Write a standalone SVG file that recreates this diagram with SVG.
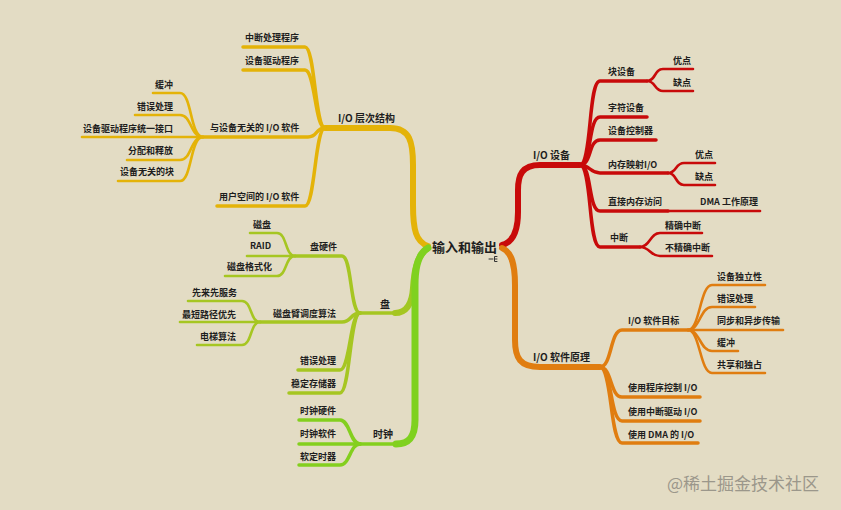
<svg xmlns="http://www.w3.org/2000/svg" width="841" height="510" viewBox="0 0 841 510">
<defs>
<linearGradient id="gDisk" gradientUnits="userSpaceOnUse" x1="0" y1="250" x2="0" y2="313">
<stop offset="0" stop-color="#80d11f"/><stop offset="1" stop-color="#a6c622"/>
</linearGradient>
</defs>
<style>
text{font-family:"Noto Sans CJK SC","Noto Sans",sans-serif;font-weight:bold;fill:#1e1e1e}
.t{font-size:9px}
.t1{font-size:10px}
.root{font-size:13px}
.wm{font-size:17px;font-weight:normal;fill:#9b978b}
path{fill:none;stroke-linecap:round;stroke-linejoin:round}
.l1{stroke-width:6}
.l2{stroke-width:3.5}
.l3{stroke-width:2.6}
.r{stroke:#c80a0a}
.o{stroke:#e07d10}
.y{stroke:#e4b308}
.g{stroke:#a6c622}
.c{stroke:#84cf1e}
.gt{stroke:#7fd11f}
.gd{stroke:url(#gDisk)}
</style>
<rect width="841" height="510" fill="#e3dcc4"/>
<g id="connectors">
<!-- level 1 -->
<path class="l1 y" d="M428 246 C416 242,413 230,413 205 V165 C413 142,410 128,390 128 H325"/>
<path class="l1 gd" d="M428 248 C416 256,414 272,413 288 C412 304,406 313,395 313"/>
<path class="l2 g" d="M395 313 H360"/>
<path class="l1 gt" style="stroke-width:7" d="M428 248 C419 253,415 265,415 285 V420 C415 436,410 444,396 444"/>
<path class="l2 c" d="M396 444 H360"/>
<path class="l1 r" d="M502 245 C514 242,518 230,518 212 V190 C518 175,522 165,540 165 H580"/>
<path class="l1 o" d="M502 248 C512 252,515 265,515 285 V340 C515 358,520 367,540 367 H600"/>
<!-- yellow level 2 -->
<path class="l2 y" d="M325 128 C315 128,315 47,305 47 H243"/>
<path class="l2 y" d="M325 128 C315 128,315 70,305 70 H243"/>
<path class="l2 y" d="M325 128 C315 128,318 137,308 137 H203"/>
<path class="l2 y" d="M325 128 C315 128,315 206,305 206 H217"/>
<!-- yellow level 3 -->
<path class="l3 y" d="M203 137 C190 137,192 93,180 93 H153"/>
<path class="l3 y" d="M203 137 C190 137,192 115,180 115 H135"/>
<path class="l3 y" d="M203 137 H82"/>
<path class="l3 y" d="M203 137 C190 137,192 160,180 160 H127"/>
<path class="l3 y" d="M203 137 C190 137,192 181,180 181 H118"/>
<!-- disk level 2 -->
<path class="l2 g" d="M360 313 C350 313,352 256,342 256 H295"/>
<path class="l2 g" d="M360 313 C350 313,352 322,342 322 H260"/>
<path class="l2 g" d="M360 313 C350 313,350 370,340 370 H298"/>
<path class="l2 g" d="M360 313 C350 313,350 393,340 393 H289"/>
<!-- disk level 3 -->
<path class="l3 g" d="M295 256 C285 256,287 233,277 233 H250"/>
<path class="l3 g" d="M295 256 H247"/>
<path class="l3 g" d="M295 256 C285 256,287 276,277 276 H225"/>
<path class="l3 g" d="M260 322 C250 322,252 301,242 301 H188"/>
<path class="l3 g" d="M260 322 H180"/>
<path class="l3 g" d="M260 322 C250 322,252 345,242 345 H197"/>
<!-- clock level 2 -->
<path class="l2 c" d="M360 444 C350 444,350 420,340 420 H299"/>
<path class="l2 c" d="M360 444 H299"/>
<path class="l2 c" d="M360 444 C350 444,350 465,340 465 H299"/>
<!-- red level 2 -->
<path class="l2 r" d="M580 165 C592 165,588 81,600 81 H647"/>
<path class="l2 r" d="M580 165 C592 165,588 117,600 117 H647"/>
<path class="l2 r" d="M580 165 C592 165,588 140,600 140 H656"/>
<path class="l2 r" d="M580 165 C590 165,590 173,600 173 H668"/>
<path class="l2 r" d="M580 165 C592 165,588 211,600 211 H668"/>
<path class="l2 r" d="M580 165 C592 165,588 247,600 247 H640"/>
<!-- red level 3 -->
<path class="l3 r" d="M647 81 C656 81,654 69,663 69 H693"/>
<path class="l3 r" d="M647 81 C656 81,654 91,663 91 H693"/>
<path class="l3 r" d="M668 173 C677 173,675 163,684 163 H715"/>
<path class="l3 r" d="M668 173 C677 173,675 185,684 185 H715"/>
<path class="l3 r" d="M668 211 H760"/>
<path class="l3 r" d="M640 247 C650 247,650 233,660 233 H702"/>
<path class="l3 r" d="M640 247 C650 247,650 256,660 256 H712"/>
<!-- orange level 2 -->
<path class="l2 o" d="M600 367 C612 367,610 330,622 330 H688"/>
<path class="l2 o" d="M600 367 C612 367,610 397,622 397 H700"/>
<path class="l2 o" d="M600 367 C612 367,610 421,622 421 H700"/>
<path class="l2 o" d="M600 367 C612 367,610 443,622 443 H698"/>
<!-- orange level 3 -->
<path class="l3 o" d="M688 330 C700 330,700 285,712 285 H765"/>
<path class="l3 o" d="M688 330 C700 330,700 307,712 307 H755"/>
<path class="l3 o" d="M688 330 H783"/>
<path class="l3 o" d="M688 330 C700 330,700 351,712 351 H738"/>
<path class="l3 o" d="M688 330 C700 330,700 373,712 373 H765"/>
</g>
<g id="root"><text class="root" x="432" y="252">输入和输出</text>
<path d="M489 259 H493 M497 256.5 H494.5 V261.5 H497 M494.5 259 H497" stroke="#333" stroke-width="1"/></g>
<g id="n-io-layer"><text class="t1" x="338" y="122">I/O 层次结构</text></g>
<g id="n-int-handler"><text class="t" x="245" y="41">中断处理程序</text></g>
<g id="n-driver"><text class="t" x="245" y="64">设备驱动程序</text></g>
<g id="n-indep"><text class="t" x="210" y="131">与设备无关的 I/O 软件</text></g>
<g id="n-user"><text class="t" x="219" y="200">用户空间的 I/O 软件</text></g>
<g id="n-buf1"><text class="t" x="155" y="88">缓冲</text></g>
<g id="n-err1"><text class="t" x="137" y="110">错误处理</text></g>
<g id="n-uniform"><text class="t" x="83" y="132">设备驱动程序统一接口</text></g>
<g id="n-alloc"><text class="t" x="128" y="154">分配和释放</text></g>
<g id="n-block-indep"><text class="t" x="120" y="175">设备无关的块</text></g>
<g id="n-disk"><text class="t1" x="380" y="308">盘</text></g>
<g id="n-disk-hw"><text class="t" x="310" y="250">盘硬件</text></g>
<g id="n-disk1"><text class="t" x="253" y="228">磁盘</text></g>
<g id="n-raid"><text class="t" x="250" y="249">RAID</text></g>
<g id="n-format"><text class="t" x="227" y="270">磁盘格式化</text></g>
<g id="n-sched"><text class="t" x="273" y="317">磁盘臂调度算法</text></g>
<g id="n-fcfs"><text class="t" x="192" y="296">先来先服务</text></g>
<g id="n-sstf"><text class="t" x="182" y="318">最短路径优先</text></g>
<g id="n-elev"><text class="t" x="200" y="340">电梯算法</text></g>
<g id="n-err2"><text class="t" x="300" y="364">错误处理</text></g>
<g id="n-stable"><text class="t" x="291" y="387">稳定存储器</text></g>
<g id="n-clock"><text class="t1" x="373" y="438">时钟</text></g>
<g id="n-clk-hw"><text class="t" x="300" y="414">时钟硬件</text></g>
<g id="n-clk-sw"><text class="t" x="300" y="437">时钟软件</text></g>
<g id="n-timer"><text class="t" x="300" y="460">软定时器</text></g>
<g id="n-io-dev"><text class="t1" x="533" y="159">I/O 设备</text></g>
<g id="n-blockdev"><text class="t" x="608" y="75">块设备</text></g>
<g id="n-pro1"><text class="t" x="673" y="64">优点</text></g>
<g id="n-con1"><text class="t" x="673" y="86">缺点</text></g>
<g id="n-chardev"><text class="t" x="608" y="111">字符设备</text></g>
<g id="n-ctrl"><text class="t" x="608" y="134">设备控制器</text></g>
<g id="n-mmio"><text class="t" x="608" y="168">内存映射I/O</text></g>
<g id="n-pro2"><text class="t" x="695" y="158">优点</text></g>
<g id="n-con2"><text class="t" x="695" y="180">缺点</text></g>
<g id="n-dma"><text class="t" x="608" y="205">直接内存访问</text></g>
<g id="n-dma-work"><text class="t" x="700" y="205">DMA 工作原理</text></g>
<g id="n-intr"><text class="t" x="610" y="241">中断</text></g>
<g id="n-precise"><text class="t" x="665" y="229">精确中断</text></g>
<g id="n-imprecise"><text class="t" x="665" y="251">不精确中断</text></g>
<g id="n-io-sw"><text class="t1" x="533" y="361">I/O 软件原理</text></g>
<g id="n-goal"><text class="t" x="628" y="324">I/O 软件目标</text></g>
<g id="n-devind"><text class="t" x="717" y="280">设备独立性</text></g>
<g id="n-err3"><text class="t" x="717" y="302">错误处理</text></g>
<g id="n-sync"><text class="t" x="717" y="324">同步和异步传输</text></g>
<g id="n-buf2"><text class="t" x="717" y="346">缓冲</text></g>
<g id="n-share"><text class="t" x="717" y="368">共享和独占</text></g>
<g id="n-prog"><text class="t" x="628" y="391">使用程序控制 I/O</text></g>
<g id="n-intdrv"><text class="t" x="628" y="415">使用中断驱动 I/O</text></g>
<g id="n-usedma"><text class="t" x="628" y="438">使用 DMA 的 I/O</text></g>
<text class="wm" x="667" y="490">@稀土掘金技术社区</text>
</svg>
